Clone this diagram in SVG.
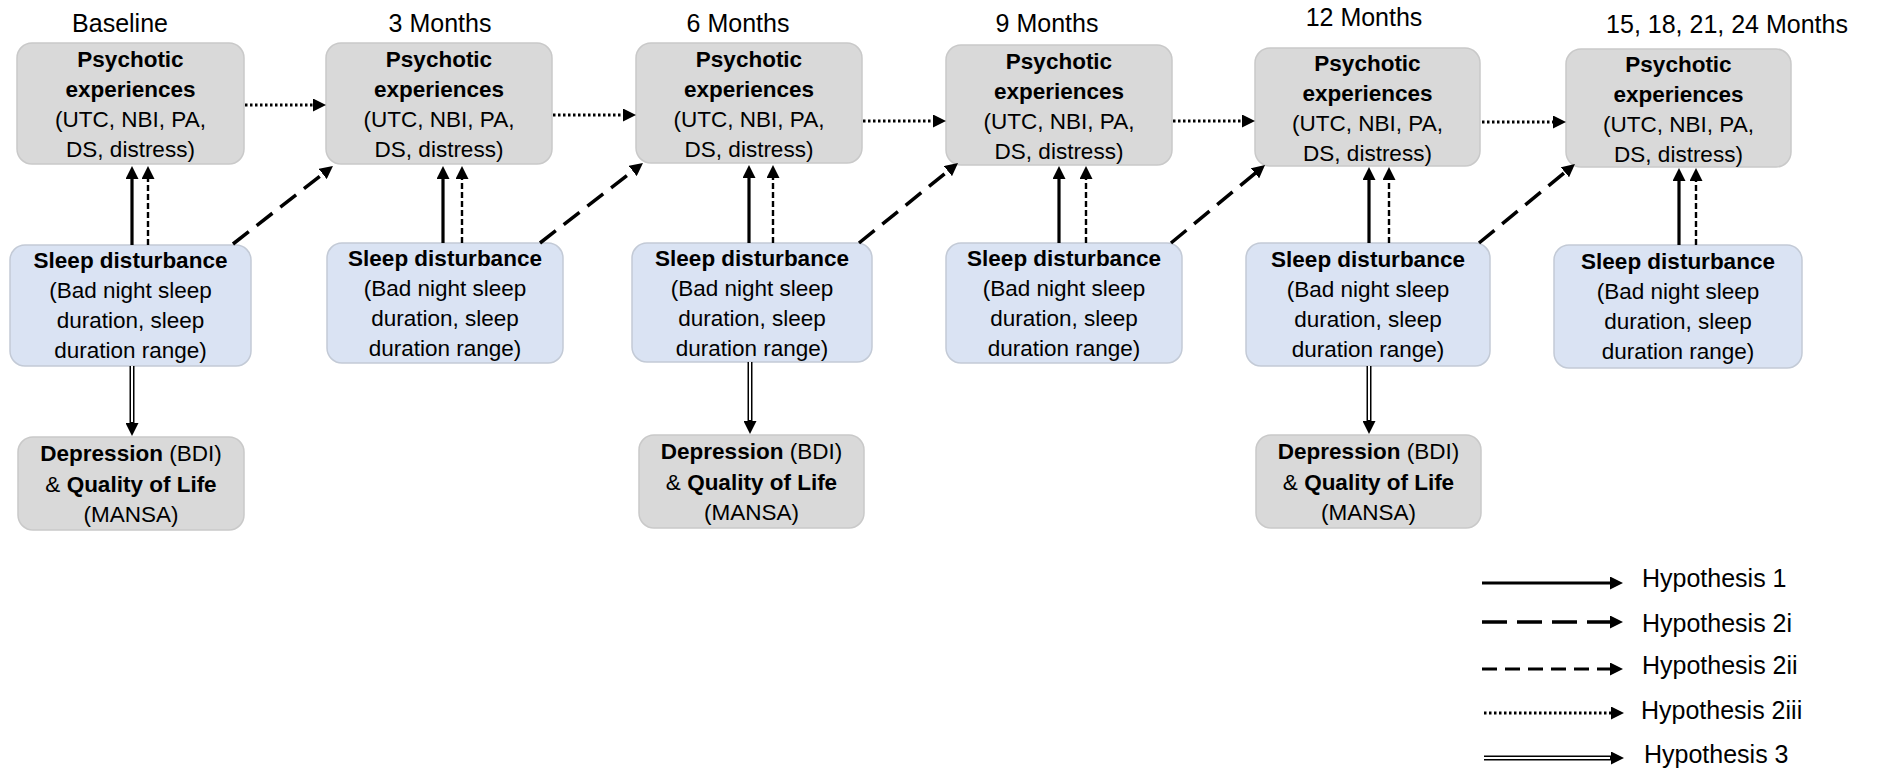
<svg xmlns="http://www.w3.org/2000/svg" width="1884" height="768" viewBox="0 0 1884 768">
<defs>
<style>
.pe{fill:#d9d9d9;stroke:#c9c9c9;stroke-width:1.5}
.sl{fill:#dae3f3;stroke:#c3cad6;stroke-width:1.5}
text{font-family:"Liberation Sans",Arial,sans-serif;fill:#000}
.b{font-size:22.5px;text-anchor:middle}
.bd{font-weight:bold}
.hd{font-size:25px;text-anchor:middle}
.lg{font-size:25px}
.c{fill:none;stroke:#000}
.h1{stroke-width:3.2}
.h2i{stroke-width:3.5;stroke-dasharray:20 10}
.h2ii{stroke-width:2.4;stroke-dasharray:6 3}
.h2iii{stroke-width:3;stroke-dasharray:2.5 2.5}
.h3o{stroke-width:5}
.h3i{stroke:#fff;stroke-width:2}
</style>
<marker id="ah" viewBox="0 0 13 13" markerUnits="userSpaceOnUse" markerWidth="13" markerHeight="13" refX="1" refY="6.5" orient="auto">
<path d="M0,0 L13,6.5 L0,13 z" fill="#000"/>
</marker>
</defs>
<rect width="1884" height="768" fill="#fff"/>

<g id="headers">
<text class="hd" x="120" y="32">Baseline</text>
<text class="hd" x="440" y="32">3 Months</text>
<text class="hd" x="738" y="32">6 Months</text>
<text class="hd" x="1047" y="32">9 Months</text>
<text class="hd" x="1364" y="26">12 Months</text>
<text class="hd" x="1727" y="33">15, 18, 21, 24 Months</text>
</g>

<g id="pe1"><rect class="pe" x="17" y="43" width="227" height="121" rx="15"/>
<text class="b"><tspan class="bd" x="130.5" y="67">Psychotic</tspan><tspan class="bd" x="130.5" y="97">experiences</tspan><tspan x="130.5" y="127">(UTC, NBI, PA,</tspan><tspan x="130.5" y="157">DS, distress)</tspan></text></g>
<g id="pe2"><rect class="pe" x="326" y="43" width="226" height="121" rx="15"/>
<text class="b"><tspan class="bd" x="439" y="67">Psychotic</tspan><tspan class="bd" x="439" y="97">experiences</tspan><tspan x="439" y="127">(UTC, NBI, PA,</tspan><tspan x="439" y="157">DS, distress)</tspan></text></g>
<g id="pe3"><rect class="pe" x="636" y="43" width="226" height="120" rx="15"/>
<text class="b"><tspan class="bd" x="749" y="67">Psychotic</tspan><tspan class="bd" x="749" y="97">experiences</tspan><tspan x="749" y="127">(UTC, NBI, PA,</tspan><tspan x="749" y="157">DS, distress)</tspan></text></g>
<g id="pe4"><rect class="pe" x="946" y="45" width="226" height="120" rx="15"/>
<text class="b"><tspan class="bd" x="1059" y="69">Psychotic</tspan><tspan class="bd" x="1059" y="99">experiences</tspan><tspan x="1059" y="129">(UTC, NBI, PA,</tspan><tspan x="1059" y="159">DS, distress)</tspan></text></g>
<g id="pe5"><rect class="pe" x="1255" y="48" width="225" height="118" rx="15"/>
<text class="b"><tspan class="bd" x="1367.5" y="71">Psychotic</tspan><tspan class="bd" x="1367.5" y="101">experiences</tspan><tspan x="1367.5" y="131">(UTC, NBI, PA,</tspan><tspan x="1367.5" y="161">DS, distress)</tspan></text></g>
<g id="pe6"><rect class="pe" x="1566" y="49" width="225" height="118" rx="15"/>
<text class="b"><tspan class="bd" x="1678.5" y="72">Psychotic</tspan><tspan class="bd" x="1678.5" y="102">experiences</tspan><tspan x="1678.5" y="132">(UTC, NBI, PA,</tspan><tspan x="1678.5" y="162">DS, distress)</tspan></text></g>

<g id="sl1"><rect class="sl" x="10" y="245" width="241" height="121" rx="15"/>
<text class="b"><tspan class="bd" x="130.5" y="268">Sleep disturbance</tspan><tspan x="130.5" y="298">(Bad night sleep</tspan><tspan x="130.5" y="328">duration, sleep</tspan><tspan x="130.5" y="358">duration range)</tspan></text></g>
<g id="sl2"><rect class="sl" x="327" y="243" width="236" height="120" rx="15"/>
<text class="b"><tspan class="bd" x="445" y="266">Sleep disturbance</tspan><tspan x="445" y="296">(Bad night sleep</tspan><tspan x="445" y="326">duration, sleep</tspan><tspan x="445" y="356">duration range)</tspan></text></g>
<g id="sl3"><rect class="sl" x="632" y="243" width="240" height="119" rx="15"/>
<text class="b"><tspan class="bd" x="752" y="266">Sleep disturbance</tspan><tspan x="752" y="296">(Bad night sleep</tspan><tspan x="752" y="326">duration, sleep</tspan><tspan x="752" y="356">duration range)</tspan></text></g>
<g id="sl4"><rect class="sl" x="946" y="243" width="236" height="120" rx="15"/>
<text class="b"><tspan class="bd" x="1064" y="266">Sleep disturbance</tspan><tspan x="1064" y="296">(Bad night sleep</tspan><tspan x="1064" y="326">duration, sleep</tspan><tspan x="1064" y="356">duration range)</tspan></text></g>
<g id="sl5"><rect class="sl" x="1246" y="243" width="244" height="123" rx="15"/>
<text class="b"><tspan class="bd" x="1368" y="267">Sleep disturbance</tspan><tspan x="1368" y="297">(Bad night sleep</tspan><tspan x="1368" y="327">duration, sleep</tspan><tspan x="1368" y="357">duration range)</tspan></text></g>
<g id="sl6"><rect class="sl" x="1554" y="245" width="248" height="123" rx="15"/>
<text class="b"><tspan class="bd" x="1678" y="269">Sleep disturbance</tspan><tspan x="1678" y="299">(Bad night sleep</tspan><tspan x="1678" y="329">duration, sleep</tspan><tspan x="1678" y="359">duration range)</tspan></text></g>

<g id="dep1"><rect class="pe" x="18" y="437" width="226" height="93" rx="15"/>
<text class="b"><tspan x="131" y="461"><tspan class="bd">Depression</tspan> (BDI)</tspan><tspan x="131" y="492">&amp; <tspan class="bd">Quality of Life</tspan></tspan><tspan x="131" y="522">(MANSA)</tspan></text></g>
<g id="dep3"><rect class="pe" x="639" y="435" width="225" height="93" rx="15"/>
<text class="b"><tspan x="751.5" y="459"><tspan class="bd">Depression</tspan> (BDI)</tspan><tspan x="751.5" y="490">&amp; <tspan class="bd">Quality of Life</tspan></tspan><tspan x="751.5" y="520">(MANSA)</tspan></text></g>
<g id="dep5"><rect class="pe" x="1256" y="435" width="225" height="93" rx="15"/>
<text class="b"><tspan x="1368.5" y="459"><tspan class="bd">Depression</tspan> (BDI)</tspan><tspan x="1368.5" y="490">&amp; <tspan class="bd">Quality of Life</tspan></tspan><tspan x="1368.5" y="520">(MANSA)</tspan></text></g>

<g id="connectors" marker-end="url(#ah)">
<path class="c h2iii" d="M245,105 H314"/>
<path class="c h2iii" d="M553,115 H624"/>
<path class="c h2iii" d="M863,121 H934"/>
<path class="c h2iii" d="M1173,121 H1243"/>
<path class="c h2iii" d="M1482,122 H1554"/>
<path class="c h1" d="M132,245 V178"/>
<path class="c h1" d="M443,243 V178"/>
<path class="c h1" d="M749,243 V177"/>
<path class="c h1" d="M1059,243 V178"/>
<path class="c h1" d="M1369,243 V179"/>
<path class="c h1" d="M1679,245 V180"/>
<path class="c h2ii" d="M148,245 V178"/>
<path class="c h2ii" d="M462,243 V178"/>
<path class="c h2ii" d="M773,243 V177"/>
<path class="c h2ii" d="M1086,243 V178"/>
<path class="c h2ii" d="M1389,243 V179"/>
<path class="c h2ii" d="M1696,245 V180"/>
<path class="c h2i" d="M233,244 L323.5,173.4"/>
<path class="c h2i" d="M540,243 L633.5,170.4"/>
<path class="c h2i" d="M859,243 L948.7,170.5"/>
<path class="c h2i" d="M1171,243 L1255.8,172.7"/>
<path class="c h2i" d="M1479,243 L1565.7,171.6"/>
<g id="h3-1"><path class="c h3o" d="M132,366 V424"/><path class="c h3i" marker-end="none" d="M132,366 V422"/></g>
<g id="h3-3"><path class="c h3o" d="M750,362 V422"/><path class="c h3i" marker-end="none" d="M750,362 V420"/></g>
<g id="h3-5"><path class="c h3o" d="M1369,366 V422"/><path class="c h3i" marker-end="none" d="M1369,366 V420"/></g>
</g>

<g id="legend">
<g marker-end="url(#ah)">
<path class="c h1" d="M1482,583 H1611"/>
<path class="c h2i" d="M1482,622 H1611" style="stroke-dasharray:25 10"/>
<path class="c h2ii" d="M1482,669 H1611" style="stroke-width:3;stroke-dasharray:15 8"/>
<path class="c h2iii" d="M1484,713 H1612"/>
<path class="c h3o" d="M1484,758 H1612"/>
<path class="c h3i" marker-end="none" d="M1484,758 H1610"/>
</g>
<text class="lg" x="1642" y="587">Hypothesis 1</text>
<text class="lg" x="1642" y="632">Hypothesis 2i</text>
<text class="lg" x="1642" y="674">Hypothesis 2ii</text>
<text class="lg" x="1641" y="719">Hypothesis 2iii</text>
<text class="lg" x="1644" y="763">Hypothesis 3</text>
</g>
</svg>
